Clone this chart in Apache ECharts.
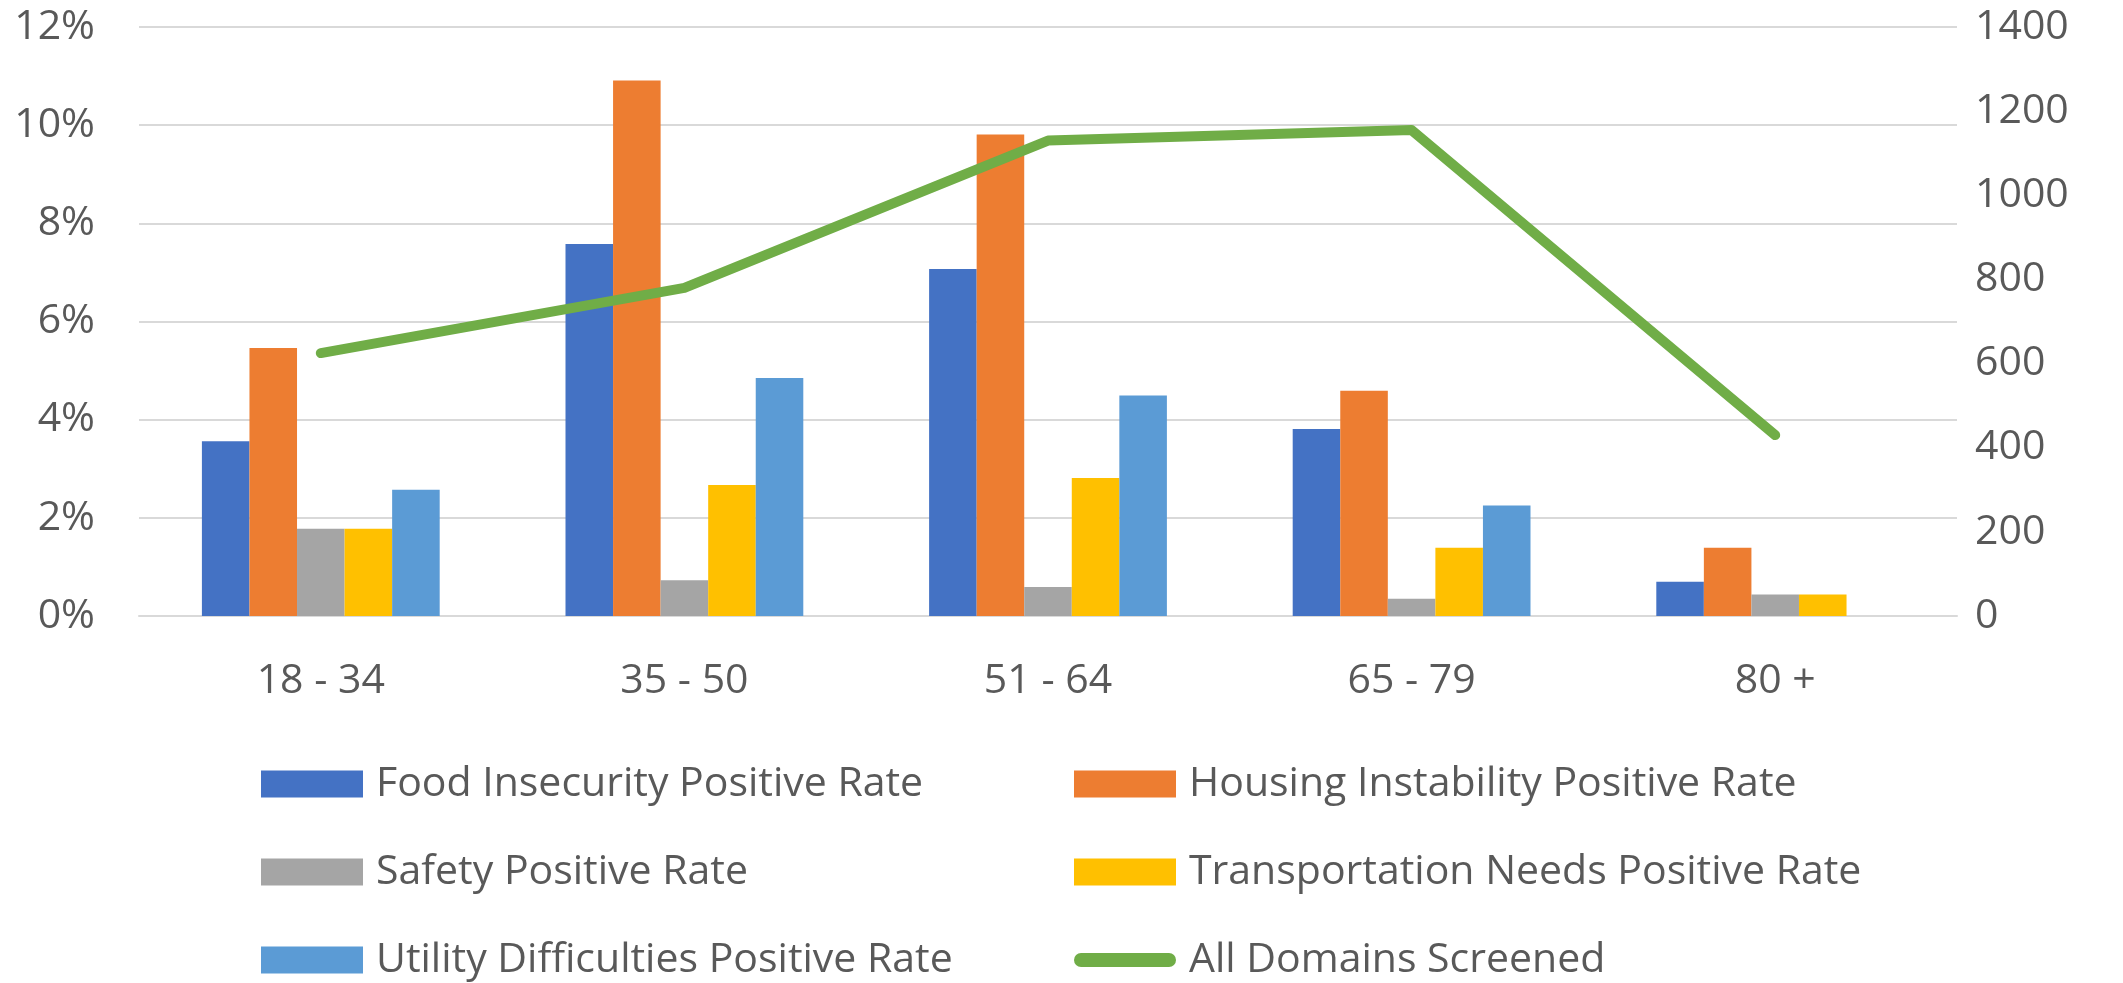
<!DOCTYPE html>
<html>
<head>
<meta charset="utf-8">
<script src="https://cdn.jsdelivr.net/npm/echarts@6/dist/echarts.min.js"></script>
<style>
html,body{margin:0;padding:0;background:#fff;}
#chart{width:2123px;height:983px;}
</style>
</head>
<body>
<div id="chart"></div>
<script>
const categories = ['18 - 34', '35 - 50', '51 - 64', '65 - 79', '80 +'];
const foodInsecurity = [3.56, 7.58, 7.07, 3.81, 0.70];
const housingInstability = [5.46, 10.91, 9.81, 4.59, 1.39];
const safety = [1.78, 0.73, 0.59, 0.35, 0.44];
const transportation = [1.78, 2.67, 2.81, 1.39, 0.44];
const utility = [2.57, 4.85, 4.49, 2.25, 0];
const allDomains = [625, 780, 1130, 1155, 430];
const leftTicks = { min: 0, max: 12, interval: 2 };
const rightTicks = { min: 0, max: 1400, interval: 200 };

const FONT = 'Open Sans';
const TXT = '#595959';

const chart = echarts.init(document.getElementById('chart'));

function bar(name, data, color) {
  return {
    name: name, type: 'bar', data: data, yAxisIndex: 0,
    barGap: '0%', barCategoryGap: '34.6%',
    itemStyle: { color: color },
    emphasis: { disabled: true }
  };
}

const legendText = { fontFamily: FONT, fontSize: 41, color: TXT, padding: [0, 0, 0, 8], lineHeight: 44 };

chart.setOption({
  animation: false,
  backgroundColor: '#fff',
  grid: { left: 139, right: 166, top: 27, bottom: 367, containLabel: false },
  legend: [
    {
      orient: 'vertical', left: 261, top: 762, itemGap: 44, padding: 0,
      itemWidth: 102, itemHeight: 27, icon: 'rect',
      data: ['Food Insecurity Positive Rate', 'Safety Positive Rate', 'Utility Difficulties Positive Rate'],
      textStyle: legendText, selectedMode: false
    },
    {
      orient: 'vertical', left: 1074, top: 762, itemGap: 44, padding: 0,
      itemWidth: 102, itemHeight: 27,
      data: [{ name: 'Housing Instability Positive Rate', icon: 'rect' },
        { name: 'Transportation Needs Positive Rate', icon: 'rect' },
        { name: 'All Domains Screened', icon: 'path://M7,0 L95,0 A7,7 0 0 1 95,14 L7,14 A7,7 0 0 1 7,0 Z' }],
      textStyle: legendText, selectedMode: false
    }
  ],
  xAxis: {
    type: 'category', data: categories,
    axisLine: { show: true, lineStyle: { color: '#D9D9D9', width: 2 } },
    axisTick: { show: false },
    axisLabel: { fontFamily: FONT, fontSize: 41, color: TXT, margin: 45 }
  },
  yAxis: [
    {
      type: 'value', min: leftTicks.min, max: leftTicks.max, interval: leftTicks.interval,
      axisLine: { show: false }, axisTick: { show: false },
      splitLine: { lineStyle: { color: '#D9D9D9', width: 2 } },
      axisLabel: { fontFamily: FONT, fontSize: 41, color: TXT, margin: 44, formatter: '{value}%' }
    },
    {
      type: 'value', min: rightTicks.min, max: rightTicks.max, interval: rightTicks.interval,
      position: 'right',
      axisLine: { show: false }, axisTick: { show: false },
      splitLine: { show: false },
      axisLabel: { fontFamily: FONT, fontSize: 41, color: TXT, margin: 18, formatter: function (v) { return String(v); } }
    }
  ],
  series: [
    bar('Food Insecurity Positive Rate', foodInsecurity, '#4472C4'),
    bar('Housing Instability Positive Rate', housingInstability, '#ED7D31'),
    bar('Safety Positive Rate', safety, '#A5A5A5'),
    bar('Transportation Needs Positive Rate', transportation, '#FFC000'),
    bar('Utility Difficulties Positive Rate', utility, '#5B9BD5'),
    {
      name: 'All Domains Screened', type: 'line', data: allDomains, yAxisIndex: 1,
      symbol: 'none', z: 5,
      itemStyle: { color: '#70AD47' },
      lineStyle: { color: '#70AD47', width: 10, cap: 'round', join: 'round' },
      emphasis: { disabled: true }
    }
  ]
});
</script>
</body>
</html>
